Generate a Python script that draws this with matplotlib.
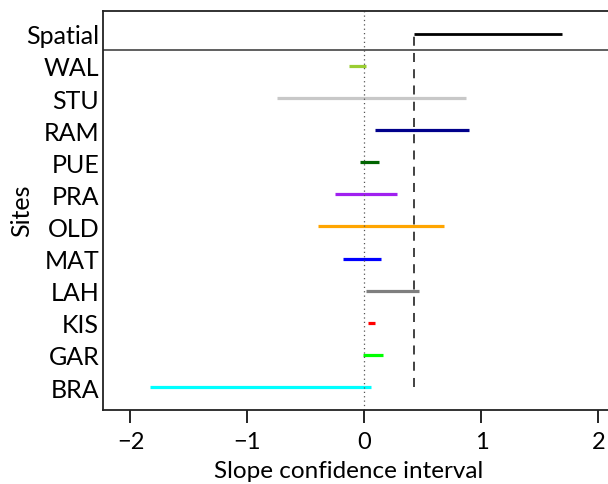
import matplotlib
matplotlib.use("Agg")
import matplotlib.pyplot as plt

# confidence intervals
sites = ["BRA", "GAR", "KIS", "LAH", "MAT", "OLD", "PRA", "PUE", "RAM", "STU", "WAL"]
lower = [-1.83, -0.01, 0.03, 0.01, -0.18, -0.40, -0.25, -0.04, 0.09, -0.75, -0.13]
upper = [0.06, 0.16, 0.09, 0.47, 0.14, 0.68, 0.28, 0.12, 0.89, 0.87, 0.01]
colors = ["#00FFFF", "#00FF00", "#FF0000", "#7F7F7F", "#0000FF", "#FFA500",
          "#A020F0", "#006400", "#00008B", "#C8C8C8", "#9ACD32"]
spatial_lo, spatial_hi = 0.42, 1.69

plt.rcParams['font.family'] = ['Lato', 'DejaVu Sans']

fig = plt.figure(figsize=(6.08, 4.85), dpi=100)
# axes runs past the right edge of the figure, as in the original crop
ax = fig.add_axes([103.3/608, 74.5/485, 530.3/608, 398.5/485])

ypos = list(range(1, len(sites) + 1))
for y, lo, hi, c in zip(ypos, lower, upper, colors):
    ax.plot([lo, hi], [y, y], color=c, lw=2.3, solid_capstyle='butt')

ys = len(sites) + 1
ax.plot([spatial_lo, spatial_hi], [ys, ys], color='black', lw=2.0, solid_capstyle='butt')
ax.plot([spatial_lo, spatial_lo], [1, ys], color='#333333', lw=1.3, ls=(0, (5, 4)))
ax.axvline(0, color='#555555', lw=0.9, ls=(0, (1, 2.5)))
ax.axhline(ys - 0.5, color='#444444', lw=1.2)

ax.set_xlim(-2.232, 2.3)
ax.set_ylim(0.30, 12.71)
ax.set_xticks([-2, -1, 0, 1, 2])
ax.set_xticklabels(["\u22122", "\u22121", "0", "1", "2"])
ax.set_yticks(ypos + [ys])
ax.set_yticklabels(sites + ["Spatial"])
ax.tick_params(axis='y', length=0, pad=3, labelsize=18)
ax.tick_params(axis='x', length=9.5, width=1.2, pad=6, labelsize=17, direction='out')
for s in ax.spines.values():
    s.set_linewidth(1.3)
    s.set_color('#222222')

ax.set_xlabel("Slope confidence interval", fontsize=17.5)
ax.xaxis.set_label_coords((349 - 103.3) / 530.3, -0.127)
ax.set_ylabel("Sites", fontsize=18)
ax.yaxis.set_label_coords(-0.1326, 0.5)

fig.savefig("out.png", dpi=100)
